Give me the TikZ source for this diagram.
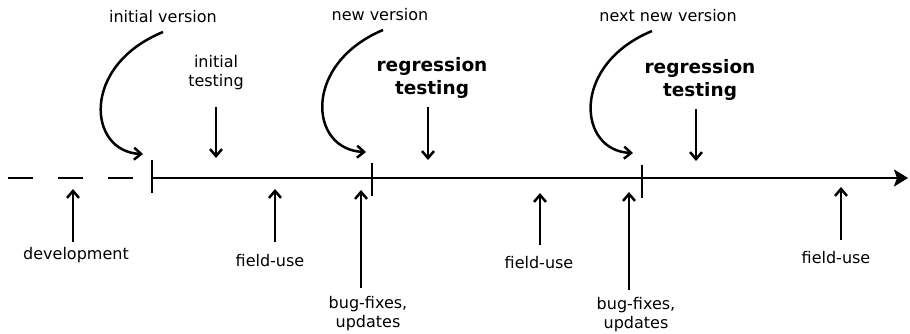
\documentclass[tikz,border=0pt]{standalone}
\usepackage{fontspec}
\setmainfont{DejaVu Sans}
\usetikzlibrary{arrows.meta}
\begin{document}
\begin{tikzpicture}[x=1pt,y=-1pt,line width=2.5pt,
  lbl/.style={font=\fontsize{16}{19}\selectfont,align=center,inner sep=0pt},
  bld/.style={font=\fontsize{18.5}{22.5}\selectfont\bfseries,align=center,inner sep=0pt},
  ptr/.style={-{Straight Barb[length=7pt,width=12pt]}},
  axis/.style={-{Stealth[length=14pt,width=17pt,inset=3pt]}},
  tick/.style={line width=2.5pt}]
\useasboundingbox (0,0) rectangle (910,334);
% labels
\node[lbl] (iv) at (163,17) {initial version};
\node[lbl] (nv) at (380,15) {new version};
\node[lbl] (nnv) at (668,16) {next new version};
\node[lbl] (it) at (216,72.5) {initial\\testing};
\node[bld] (rt1) at (432,78) {regression\\testing};
\node[bld] (rt2) at (700,80) {regression\\testing};
\node[lbl] (dev) at (76,255) {development};
\node[lbl] (fu1) at (270,261) {field-use};
\node[lbl] (bf1) at (368,314) {bug-fixes,\\updates};
\node[lbl] (fu2) at (539,263) {field-use};
\node[lbl] (bf2) at (636,315) {bug-fixes,\\updates};
\node[lbl] (fu3) at (836,258) {field-use};
% axis
\coordinate (d0) at (8,178);
\coordinate (d1) at (133,178);
\coordinate (a0) at (152,178);
\coordinate (a1) at (908,178);
\draw[dash pattern=on 25pt off 25pt] (d0) -- (d1);
\draw[axis] (a0) -- (a1);
% ticks
\coordinate (t1a) at (152,160); \coordinate (t1b) at (152,193);
\coordinate (t2a) at (372,163); \coordinate (t2b) at (372,196);
\coordinate (t3a) at (642,165); \coordinate (t3b) at (642,198);
\draw[tick] (t1a) -- (t1b);
\draw[tick] (t2a) -- (t2b);
\draw[tick] (t3a) -- (t3b);
% version curves
\coordinate (c1s) at (163,32);  \coordinate (c1e) at (143,154);
\coordinate (c2s) at (383,30);  \coordinate (c2e) at (366,152);
\coordinate (c3s) at (652,31);  \coordinate (c3e) at (633,153);
\draw[ptr] (c1s) .. controls (80,66) and (88,152) .. (c1e);
\draw[ptr] (c2s) .. controls (302,64) and (309,150) .. (c2e);
\draw[ptr] (c3s) .. controls (570,65) and (578,151) .. (c3e);
% testing arrows
\coordinate (it1) at (216,107); \coordinate (it2) at (216,158);
\coordinate (r1a) at (428,107); \coordinate (r1b) at (428,160);
\coordinate (r2a) at (696,109); \coordinate (r2b) at (696,161);
\draw[ptr] (it1) -- (it2);
\draw[ptr] (r1a) -- (r1b);
\draw[ptr] (r2a) -- (r2b);
% up arrows
\coordinate (u1a) at (73,242);  \coordinate (u1b) at (73,189);
\coordinate (u2a) at (275,242); \coordinate (u2b) at (275,189);
\coordinate (u3a) at (361,288); \coordinate (u3b) at (361,190);
\coordinate (u4a) at (540,245); \coordinate (u4b) at (540,193);
\coordinate (u5a) at (629,290); \coordinate (u5b) at (629,192);
\coordinate (u6a) at (841,240); \coordinate (u6b) at (841,187);
\draw[ptr] (u1a) -- (u1b);
\draw[ptr] (u2a) -- (u2b);
\draw[ptr] (u3a) -- (u3b);
\draw[ptr] (u4a) -- (u4b);
\draw[ptr] (u5a) -- (u5b);
\draw[ptr] (u6a) -- (u6b);
\end{tikzpicture}
\end{document}
